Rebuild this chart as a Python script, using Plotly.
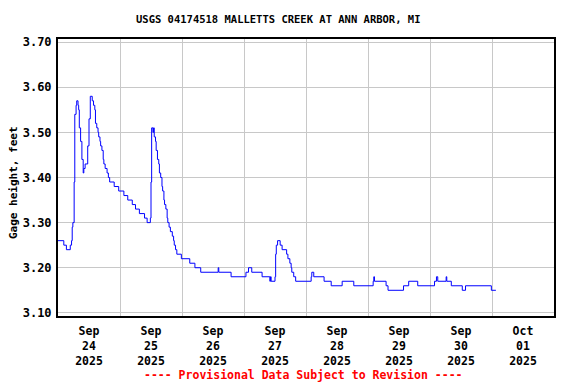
import plotly.graph_objects as go

# Gage height readings (step changes), feet
times = [
    "2025-09-24 00:00", "2025-09-24 02:15", "2025-09-24 03:15", "2025-09-24 04:45",
    "2025-09-24 05:15", "2025-09-24 05:30", "2025-09-24 05:45", "2025-09-24 06:15",
    "2025-09-24 06:30", "2025-09-24 07:00", "2025-09-24 07:15", "2025-09-24 07:45",
    "2025-09-24 08:00", "2025-09-24 08:15", "2025-09-24 08:45", "2025-09-24 09:15",
    "2025-09-24 09:45", "2025-09-24 10:00", "2025-09-24 10:30", "2025-09-24 11:30",
    "2025-09-24 12:00", "2025-09-24 12:30", "2025-09-24 13:15", "2025-09-24 13:45",
    "2025-09-24 14:15", "2025-09-24 14:30", "2025-09-24 15:00", "2025-09-24 15:30",
    "2025-09-24 15:45", "2025-09-24 16:15", "2025-09-24 16:30", "2025-09-24 17:00",
    "2025-09-24 17:30", "2025-09-24 17:45", "2025-09-24 18:15", "2025-09-24 19:00",
    "2025-09-24 19:30", "2025-09-24 20:00", "2025-09-24 21:45", "2025-09-24 23:30",
    "2025-09-25 01:30", "2025-09-25 03:00", "2025-09-25 04:45", "2025-09-25 06:00",
    "2025-09-25 07:30", "2025-09-25 09:30", "2025-09-25 10:30", "2025-09-25 11:45",
    "2025-09-25 12:00", "2025-09-25 12:15", "2025-09-25 12:45", "2025-09-25 13:00",
    "2025-09-25 13:15", "2025-09-25 13:45", "2025-09-25 14:00", "2025-09-25 14:30",
    "2025-09-25 15:00", "2025-09-25 15:15", "2025-09-25 15:45", "2025-09-25 16:15",
    "2025-09-25 16:30", "2025-09-25 17:00", "2025-09-25 17:15", "2025-09-25 17:45",
    "2025-09-25 18:15", "2025-09-25 18:30", "2025-09-25 19:00", "2025-09-25 19:30",
    "2025-09-25 20:15", "2025-09-25 20:45", "2025-09-25 21:00", "2025-09-25 21:30",
    "2025-09-25 22:00", "2025-09-25 23:45",
    "2025-09-26 03:00", "2025-09-26 05:00", "2025-09-26 07:15", "2025-09-26 14:00",
    "2025-09-26 14:15", "2025-09-26 19:00",
    "2025-09-27 00:45", "2025-09-27 01:45", "2025-09-27 03:00", "2025-09-27 07:00",
    "2025-09-27 10:00", "2025-09-27 10:15", "2025-09-27 10:30", "2025-09-27 12:00",
    "2025-09-27 12:15", "2025-09-27 12:30", "2025-09-27 13:00", "2025-09-27 14:00",
    "2025-09-27 14:45", "2025-09-27 16:30", "2025-09-27 17:00", "2025-09-27 17:45",
    "2025-09-27 18:15", "2025-09-27 18:30", "2025-09-27 19:15", "2025-09-27 20:00",
    "2025-09-28 02:00", "2025-09-28 02:15", "2025-09-28 03:00", "2025-09-28 07:00",
    "2025-09-28 09:45", "2025-09-28 14:00", "2025-09-28 18:30",
    "2025-09-29 02:00", "2025-09-29 02:15", "2025-09-29 02:30", "2025-09-29 07:00",
    "2025-09-29 07:45", "2025-09-29 13:45", "2025-09-29 15:45", "2025-09-29 19:15",
    "2025-09-30 01:45", "2025-09-30 02:30", "2025-09-30 03:00", "2025-09-30 06:15",
    "2025-09-30 06:30", "2025-09-30 08:15", "2025-09-30 12:30", "2025-09-30 13:45",
    "2025-09-30 23:45", "2025-10-01 01:30",
]
gage_ft = [
    3.26, 3.25, 3.24, 3.25,
    3.26, 3.29, 3.30, 3.39,
    3.54, 3.56, 3.57, 3.56,
    3.55, 3.51, 3.48, 3.44,
    3.41, 3.42, 3.43, 3.47,
    3.53, 3.58, 3.57, 3.56,
    3.55, 3.52, 3.51, 3.50,
    3.49, 3.48, 3.47, 3.46,
    3.44, 3.43, 3.42, 3.41,
    3.40, 3.39, 3.38, 3.37,
    3.36, 3.35, 3.34, 3.33,
    3.32, 3.31, 3.30, 3.31,
    3.39, 3.51, 3.50, 3.51,
    3.49, 3.48, 3.46, 3.44,
    3.43, 3.41, 3.40, 3.38,
    3.37, 3.35, 3.34, 3.33,
    3.31, 3.30, 3.29, 3.28,
    3.27, 3.26, 3.25, 3.24,
    3.23, 3.22,
    3.21, 3.20, 3.19, 3.20,
    3.19, 3.18,
    3.19, 3.20, 3.19, 3.18,
    3.17, 3.18, 3.17, 3.18,
    3.23, 3.25, 3.26, 3.25,
    3.24, 3.23, 3.22, 3.21,
    3.20, 3.19, 3.18, 3.17,
    3.18, 3.19, 3.18, 3.17,
    3.16, 3.17, 3.16,
    3.17, 3.18, 3.17, 3.16,
    3.15, 3.16, 3.17, 3.16,
    3.17, 3.18, 3.17, 3.18,
    3.17, 3.16, 3.15, 3.16,
    3.15, 3.15,
]

title_text = "USGS 04174518 MALLETTS CREEK AT ANN ARBOR, MI"
y_title = "Gage height, feet"
footer_text = "---- Provisional Data Subject to Revision ----"
x_range = ["2025-09-24 00:00", "2025-10-02 00:00"]
y_range = [3.093, 3.707]

FONT = "DejaVu Sans Mono"

# The page body has an 8px default margin, so the figure is sized to fit inside it.
fig = go.Figure()
fig.add_trace(go.Scatter(
    x=times, y=gage_ft, mode="lines", line=dict(color="#0000ff", width=1, shape="hv"),
    hoverinfo="x+y", showlegend=False,
))

fig.update_layout(
    width=568, height=376,
    margin=dict(l=50, r=22, t=31, b=68, pad=0),
    paper_bgcolor="white", plot_bgcolor="white",
    font=dict(family=FONT, size=11, color="black"),
    xaxis=dict(
        type="date", range=x_range, dtick=86400000, tick0="2025-09-24",
        ticklabelmode="period", tickformat="<b>%b</b><br><b>%d</b><br><b>%Y</b>",
        showgrid=True, gridcolor="#c8c8c8", gridwidth=1,
        showline=True, linecolor="black", linewidth=2, mirror=True,
        ticks="", zeroline=False, automargin=False, ticklabelstandoff=3,
        tickfont=dict(family=FONT, size=11.5, color="black"),
    ),
    yaxis=dict(
        range=y_range, tick0=3.1, dtick=0.1, tickformat=".2f",
        showgrid=True, gridcolor="#c8c8c8", gridwidth=1,
        showline=True, linecolor="black", linewidth=2, mirror=True,
        ticks="", zeroline=False, automargin=False, ticklabelstandoff=2,
        tickfont=dict(family=FONT, size=12, color="black"),
        tickprefix="<b>", ticksuffix="</b>",
    ),
    annotations=[
        dict(text="<b>" + title_text + "</b>", xref="paper", yref="paper",
             x=(278 - 58) / 496, y=(316 - 19) / 277, xanchor="center", yanchor="middle",
             showarrow=False, font=dict(family=FONT, size=10.5, color="black")),
        dict(text="<b>" + y_title + "</b>", xref="paper", yref="paper",
             x=(13 - 58) / 496, y=(316 - 183) / 277, xanchor="center", yanchor="middle",
             textangle=-90, showarrow=False, borderpad=0,
             font=dict(family=FONT, size=11, color="black")),
        dict(text="<b>" + footer_text + "</b>", xref="paper", yref="paper",
             x=(303 - 58) / 496, y=(316 - 375) / 277, xanchor="center", yanchor="middle",
             showarrow=False, font=dict(family=FONT, size=11.5, color="red")),
    ],
)

fig.write_html("out.html")
